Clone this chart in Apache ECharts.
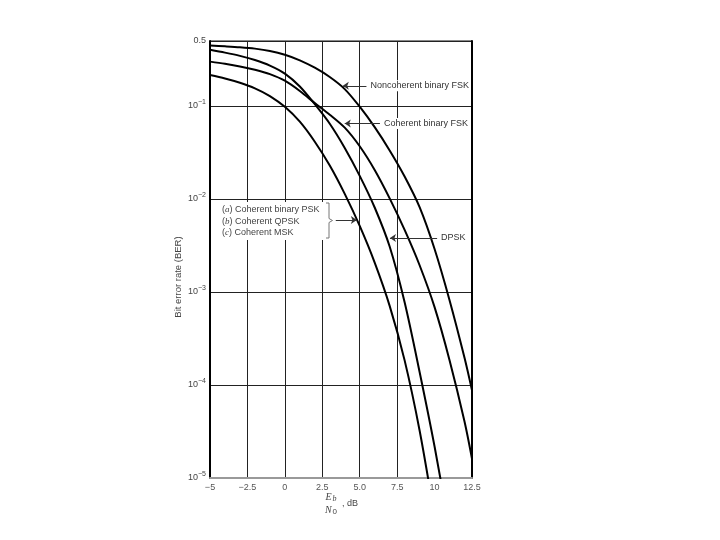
<!DOCTYPE html>
<html>
<head>
<meta charset="utf-8">
<style>
  html, body { margin: 0; padding: 0; background: #fff; }
  #chart { width: 720px; height: 540px; }
</style>
<script src="https://cdn.jsdelivr.net/npm/echarts@6/dist/echarts.min.js"></script>
</head>
<body>
<div id="chart"></div>
<script>
// Eb/N0 in dB
const ebn0 = [-5, -4, -3, -2, -1, 0, 1, 2, 3, 4, 5, 6, 7, 8, 9, 10, 11, 12, 12.5];

// bit error rates
const noncoherentFsk = [0.447, 0.4385, 0.4285, 0.414, 0.391, 0.356, 0.310, 0.258, 0.205, 0.152, 0.0982, 0.0592, 0.0333, 0.01746, 0.00817, 0.0029, 0.000817, 0.000196, 0.0000875];
const coherentFsk = [0.300, 0.284, 0.266, 0.245, 0.220, 0.187, 0.145, 0.1076, 0.0807, 0.0585, 0.0369, 0.0205, 0.01016, 0.00465, 0.00194, 0.000687, 0.000185, 0.0000405, 0.0000161];
const dpsk = [0.402, 0.375, 0.346, 0.312, 0.272, 0.223, 0.162, 0.1045, 0.0644, 0.0354, 0.01774, 0.0081, 0.00308, 0.000774, 0.000138, 0.0000218, 0.00000275];
const coherentPsk = [0.215, 0.198, 0.178, 0.155, 0.128, 0.098, 0.0678, 0.0413, 0.0229, 0.01135, 0.00513, 0.00207, 0.00071, 0.000184, 0.0000324, 0.0000038];

const xTickLabels = ['\u22125', '\u22122.5', '0', '2.5', '5.0', '7.5', '10', '12.5'];
const pskLegend = ['a', 'Coherent binary PSK', 'b', 'Coherent QPSK', 'c', 'Coherent MSK'];

const sans = '"Liberation Sans", Arial, sans-serif';
const serif = '"Liberation Serif", "Times New Roman", serif';
const textColor = '#444';

function pairs(values) {
  return values.map((v, i) => [ebn0[i], v]);
}

function arrow(from, to, text) {
  return {
    silent: true,
    symbol: ['none', 'arrow'],
    symbolSize: 6,
    animation: false,
    lineStyle: { color: '#333', width: 1, type: 'solid' },
    emphasis: { disabled: true },
    label: {
      show: !!text,
      position: 'start',
      distance: 3,
      formatter: text || '',
      color: '#333',
      fontSize: 9,
      fontFamily: sans,
      backgroundColor: '#fff',
      padding: [1, 1]
    },
    data: [[{ coord: from }, { coord: to }]]
  };
}

function curve(name, values, mark) {
  return {
    name: name,
    type: 'line',
    data: pairs(values),
    showSymbol: false,
    symbol: 'none',
    smooth: 0.3,
    clip: true,
    lineStyle: { color: '#000', width: 2 },
    emphasis: { disabled: true },
    markLine: mark
  };
}

const chart = echarts.init(document.getElementById('chart'));

// no grid line at 10 dB in the original
const splitColors = ['#222', '#222', '#222', '#222', '#222', '#222', 'rgba(0,0,0,0)', '#222'];

chart.setOption({
  animation: false,
  grid: {
    left: 210, right: 248, top: 41, bottom: 62,
    show: true, borderColor: '#111', borderWidth: 1
  },
  xAxis: {
    type: 'value',
    min: -5, max: 12.5, interval: 2.5,
    axisLine: { show: true, onZero: false, lineStyle: { color: '#999', width: 2 } },
    axisTick: { show: false },
    splitLine: { show: true, lineStyle: { color: splitColors, width: 1 } },
    axisLabel: {
      color: '#555', fontSize: 9, fontFamily: sans, margin: 5,
      formatter: (v) => xTickLabels[Math.round((v + 5) / 2.5)]
    }
  },
  yAxis: [
    {
      type: 'log', logBase: 10,
      min: 0.00001, max: 0.5,
      axisLine: { show: true, onZero: false, lineStyle: { color: '#000', width: 2 } },
      axisTick: { show: false },
      splitLine: { show: true, lineStyle: { color: '#222', width: 1 } },
      axisLabel: {
        margin: 4,
        formatter: (v) => {
          if (v > 0.3) return '{b|0.5}';
          const e = Math.round(Math.log10(v));
          return '{b|10}{s|\u2212' + (-e) + '}';
        },
        rich: {
          b: { fontSize: 9, color: textColor, fontFamily: sans },
          s: { fontSize: 7, color: textColor, fontFamily: sans, padding: [0, 0, 7, 0] }
        }
      }
    },
    {
      type: 'log', logBase: 10,
      min: 0.00001, max: 0.5,
      position: 'right',
      axisLine: { show: true, onZero: false, lineStyle: { color: '#000', width: 2 } },
      axisTick: { show: false },
      axisLabel: { show: false },
      splitLine: { show: false }
    }
  ],
  series: [
    curve('Noncoherent binary FSK', noncoherentFsk, arrow([5.45, 0.165], [3.87, 0.165], 'Noncoherent binary FSK')),
    curve('Coherent binary FSK', coherentFsk, arrow([6.35, 0.0649], [4.0, 0.0649], 'Coherent binary FSK')),
    curve('DPSK', dpsk, arrow([10.17, 0.00381], [7.02, 0.00381], 'DPSK')),
    curve('Coherent binary PSK', coherentPsk, arrow([3.4, 0.00594], [4.81, 0.00594], ''))
  ],
  graphic: [
    {
      type: 'rect', z: 1,
      shape: { x: 219, y: 202, width: 110, height: 38 },
      style: { fill: '#fff' }
    },
    ...[0, 1, 2].map((i) => ({
      type: 'text', z: 2,
      x: 222, y: 210 + i * 11.3,
      style: {
        text: '({i|' + pskLegend[i * 2] + '}) ' + pskLegend[i * 2 + 1],
        fontSize: 9, fontFamily: sans, fill: textColor,
        verticalAlign: 'middle',
        rich: { i: { fontSize: 9, fontStyle: 'italic', fontFamily: serif, fill: textColor } }
      }
    })),
    {
      type: 'polyline', z: 2,
      shape: { points: [[326, 203], [329, 203], [329, 218.5], [332.5, 220.5], [329, 222.5], [329, 238], [326, 238]] },
      style: { stroke: '#777', lineWidth: 1, fill: null }
    },
    {
      type: 'text', z: 2,
      x: 178, y: 277, rotation: Math.PI / 2,
      style: {
        text: 'Bit error rate (BER)', fontSize: 9.5, fontFamily: sans, fill: textColor,
        align: 'center', verticalAlign: 'middle'
      }
    },
    {
      type: 'text', z: 2,
      x: 331, y: 497,
      style: {
        text: '{i|E}{s|b}', align: 'center', verticalAlign: 'middle',
        rich: {
          i: { fontSize: 10, fontStyle: 'italic', fontFamily: serif, fill: textColor },
          s: { fontSize: 8, fontStyle: 'italic', fontFamily: serif, fill: textColor, padding: [4, 0, 0, 1] }
        }
      }
    },
    {
      type: 'text', z: 2,
      x: 331, y: 510,
      style: {
        text: '{i|N}{s|0}', align: 'center', verticalAlign: 'middle',
        rich: {
          i: { fontSize: 10, fontStyle: 'italic', fontFamily: serif, fill: textColor },
          s: { fontSize: 8, fontFamily: sans, fill: textColor, padding: [4, 0, 0, 1] }
        }
      }
    },
    {
      type: 'text', z: 2,
      x: 342, y: 504,
      style: { text: ', dB', fontSize: 9, fontFamily: sans, fill: textColor, verticalAlign: 'middle' }
    }
  ]
});
</script>
</body>
</html>
